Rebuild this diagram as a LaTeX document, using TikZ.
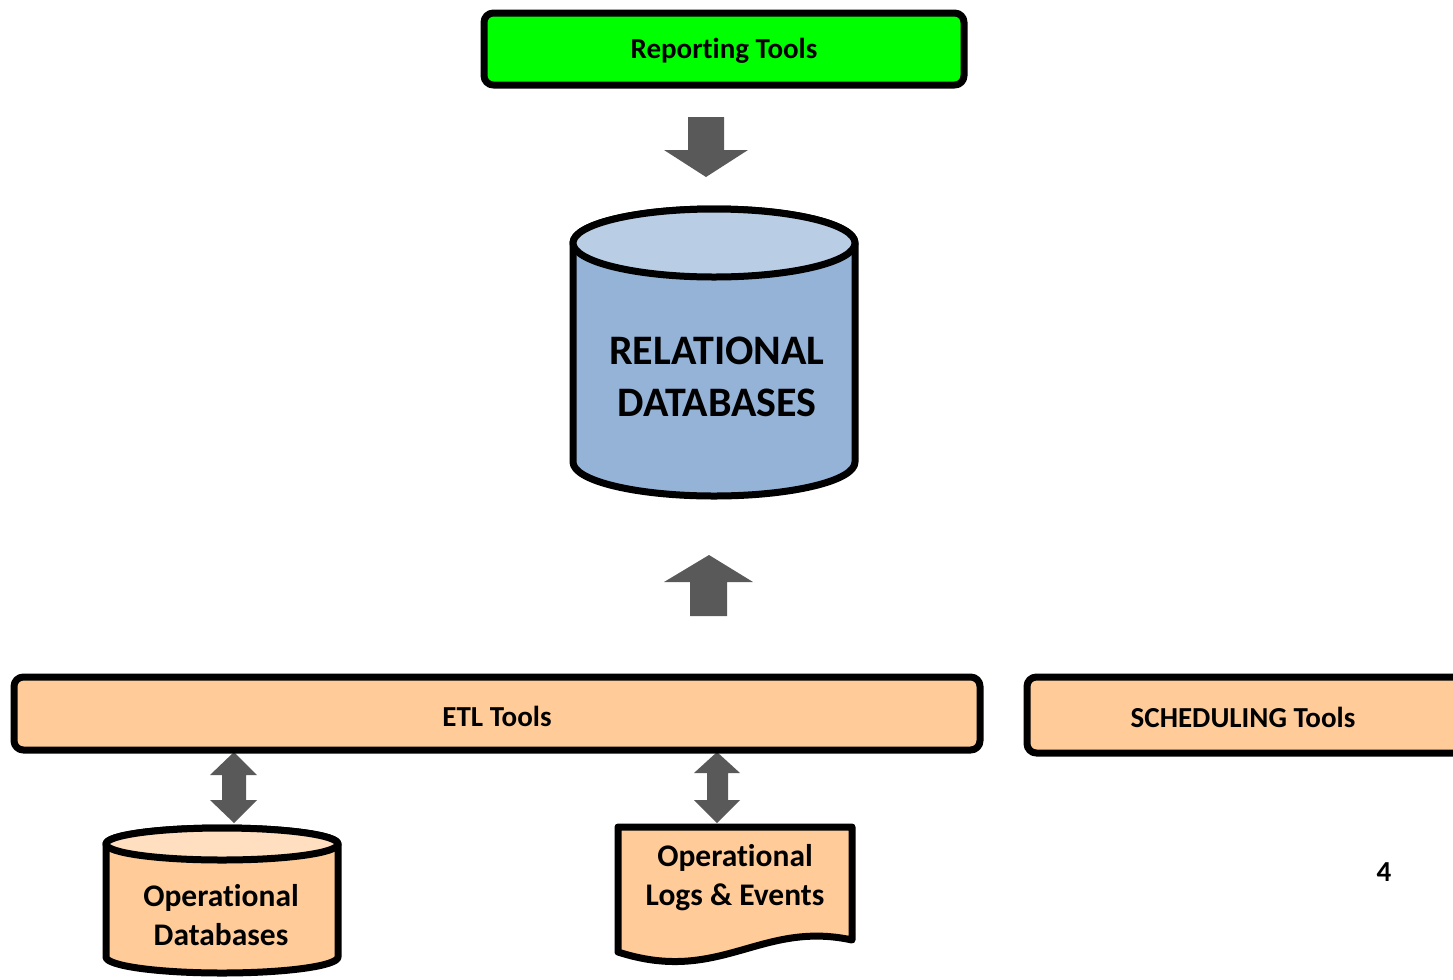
\documentclass[tikz,border=0pt]{standalone}
\usepackage{fontspec}
\setmainfont{Carlito}[Ligatures=NoCommon]
\definecolor{peach}{HTML}{FFCC99}
\definecolor{peachtop}{HTML}{FFDFC0}
\definecolor{dbside}{HTML}{95B3D7}
\definecolor{dbtop}{HTML}{B9CDE5}
\definecolor{brightgreen}{HTML}{00FF00}
\definecolor{arrowgrey}{HTML}{595959}
\tikzset{
  px/.style={x=0.75pt,y=-0.75pt},
  outline/.style={draw=black,line width=5.25pt,line join=round},
  toolbox/.style={outline,rounded corners=7pt,inner sep=0pt},
  smalltext/.style={font=\fontsize{21.75}{26}\selectfont\bfseries},
  midtext/.style={font=\fontsize{23.6}{29.25}\selectfont\bfseries,align=center},
  bigtext/.style={font=\fontsize{31.5}{39}\selectfont\bfseries,align=center},
  blockarrow/.style={fill=arrowgrey}
}
\begin{document}
\begin{tikzpicture}[px]
\clip (0,0) rectangle (1453,979);
\useasboundingbox (0,0) rectangle (1453,979);

% block arrows
\fill[blockarrow] (688,117) -- (724,117) -- (724,150) -- (748,150) -- (706,177)
  -- (664,150) -- (688,150) -- cycle;
\fill[blockarrow] (709,555) -- (753,582) -- (727,582) -- (727,616) -- (690,616)
  -- (690,582) -- (664,582) -- cycle;
\fill[blockarrow] (234,752) -- (257,775) -- (246,775) -- (246,800) -- (257,800)
  -- (234,823) -- (210,800) -- (222,800) -- (222,775) -- (210,775) -- cycle;
\fill[blockarrow] (717,752) -- (740,773) -- (728,773) -- (728,800) -- (740,800)
  -- (717,823) -- (694,800) -- (707,800) -- (707,773) -- (694,773) -- cycle;

% top box
\draw[toolbox,fill=brightgreen] (484,13) rectangle (964,85);
\node[smalltext] (report) at (724,51) {Reporting Tools};

% relational database cylinder (y axis points down, so the lower arc runs 180 -> 0)
\filldraw[outline,fill=dbside] (573,243) -- (573,462)
  arc[start angle=180,end angle=0,x radius=141,y radius=34]
  -- (855,243) arc[start angle=0,end angle=-180,x radius=141,y radius=34] -- cycle;
\filldraw[outline,fill=dbtop] (714,243) ellipse[x radius=141,y radius=34];
\node[bigtext] (rdb) at (717,377) {RELATIONAL\\DATABASES};

% ETL and scheduling bars
\draw[toolbox,fill=peach] (14,677) rectangle (980,750);
\node[smalltext] (etl) at (497,716) {ETL Tools};
\draw[toolbox,fill=peach] (1027,677) rectangle (1470,753);
\node[smalltext] (sched) at (1243,717) {SCHEDULING Tools};

% operational database cylinder
\filldraw[outline,fill=peach] (106,844) -- (106,957)
  arc[start angle=180,end angle=0,x radius=116,y radius=16]
  -- (338,844) arc[start angle=0,end angle=-180,x radius=116,y radius=16] -- cycle;
\filldraw[outline,fill=peachtop] (222,844) ellipse[x radius=116,y radius=16];
\node[midtext] (opdb) at (221,915) {Operational\\Databases};

% logs document
\filldraw[outline,fill=peach] (618,827) -- (852,827) -- (852,940)
  .. controls (760,920) and (720,985) .. (618,952) -- cycle;
\node[midtext] (logs) at (735,878) {Operational\\Logs \& Events};

% page number
\node[smalltext] (pagenum) at (1384,872) {4};
\end{tikzpicture}
\end{document}
